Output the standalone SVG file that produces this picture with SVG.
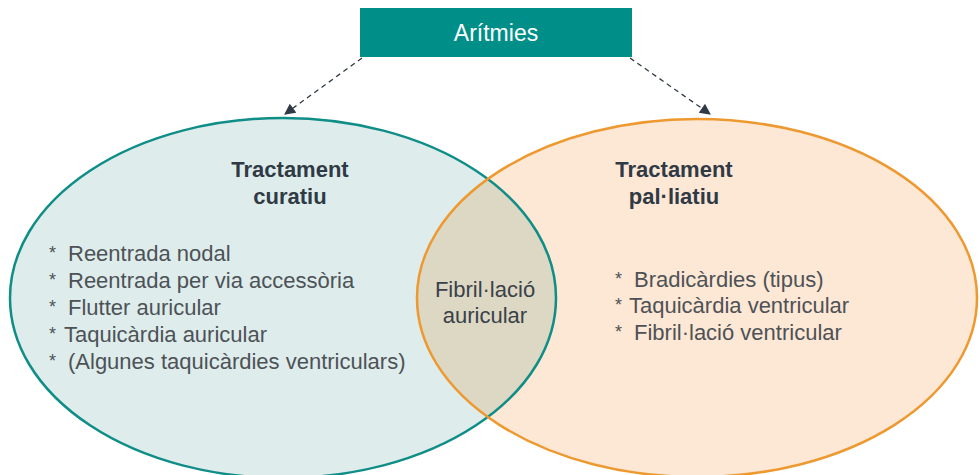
<svg xmlns="http://www.w3.org/2000/svg" width="980" height="475" viewBox="0 0 980 475">
<style>
.t{font-family:"Liberation Sans",Arial,sans-serif;}
.h{font-size:22px;font-weight:bold;fill:#2f3a45;text-anchor:middle;}
.li{font-size:22px;fill:#4d5256;}
.ast{font-size:18px;fill:#4d5256;}
.mid{font-size:22px;fill:#3a4148;text-anchor:middle;}
.con{stroke:#2f3a45;stroke-width:1.3;stroke-dasharray:5,4;fill:none;}
</style>
<defs>
<marker id="ah" viewBox="0 0 10 10" refX="9" refY="5" markerWidth="12" markerHeight="11" markerUnits="userSpaceOnUse" orient="auto">
<path d="M0,0 L10,5 L0,10 z" fill="#2f3a45"/>
</marker>
<clipPath id="cl"><ellipse cx="283" cy="298" rx="273" ry="180"/></clipPath>
</defs>
<rect width="980" height="475" fill="#ffffff"/>
<g id="curatiu">
<ellipse cx="283" cy="298" rx="273" ry="180" fill="#deecec"/>
</g>
<g id="paliatiu">
<ellipse cx="697" cy="298" rx="280" ry="179" fill="#fde7d5"/>
</g>
<g id="overlap">
<ellipse cx="697" cy="298" rx="280" ry="179" fill="#dcd8c4" clip-path="url(#cl)"/>
</g>
<ellipse cx="283" cy="298" rx="273" ry="180" fill="none" stroke="#0f8d87" stroke-width="2.5"/>
<ellipse cx="697" cy="298" rx="280" ry="179" fill="none" stroke="#ee9930" stroke-width="2.5"/>
<g id="aritmies">
<rect x="360" y="8" width="272" height="49" fill="#008f88"/>
<text class="t" x="496" y="41" font-size="23" fill="#ffffff" text-anchor="middle">Arítmies</text>
</g>
<g id="connectors">
<line class="con" x1="362" y1="58" x2="285" y2="114" marker-end="url(#ah)"/>
<line class="con" x1="630" y1="58" x2="710" y2="114" marker-end="url(#ah)"/>
</g>
<g id="curatiu-text" class="t">
<text class="h" x="290" y="177">Tractament</text>
<text class="h" x="290" y="204">curatiu</text>
<text class="ast" x="49" y="259">*</text>
<text class="li" x="68" y="261">Reentrada nodal</text>
<text class="ast" x="49" y="286">*</text>
<text class="li" x="68" y="288">Reentrada per via accessòria</text>
<text class="ast" x="49" y="313">*</text>
<text class="li" x="68" y="315">Flutter auricular</text>
<text class="ast" x="49" y="340">*</text>
<text class="li" x="64" y="342">Taquicàrdia auricular</text>
<text class="ast" x="49" y="367">*</text>
<text class="li" x="68" y="369">(Algunes taquicàrdies ventriculars)</text>
</g>
<g id="paliatiu-text" class="t">
<text class="h" x="674" y="177">Tractament</text>
<text class="h" x="674" y="204">pal·liatiu</text>
<text class="ast" x="615" y="285">*</text>
<text class="li" x="634" y="287">Bradicàrdies (tipus)</text>
<text class="ast" x="615" y="311">*</text>
<text class="li" x="629" y="313">Taquicàrdia ventricular</text>
<text class="ast" x="615" y="338">*</text>
<text class="li" x="634" y="340">Fibril·lació ventricular</text>
</g>
<g id="fibrillacio" class="t">
<text class="mid" x="485" y="297">Fibril·lació</text>
<text class="mid" x="485" y="323">auricular</text>
</g>
</svg>
